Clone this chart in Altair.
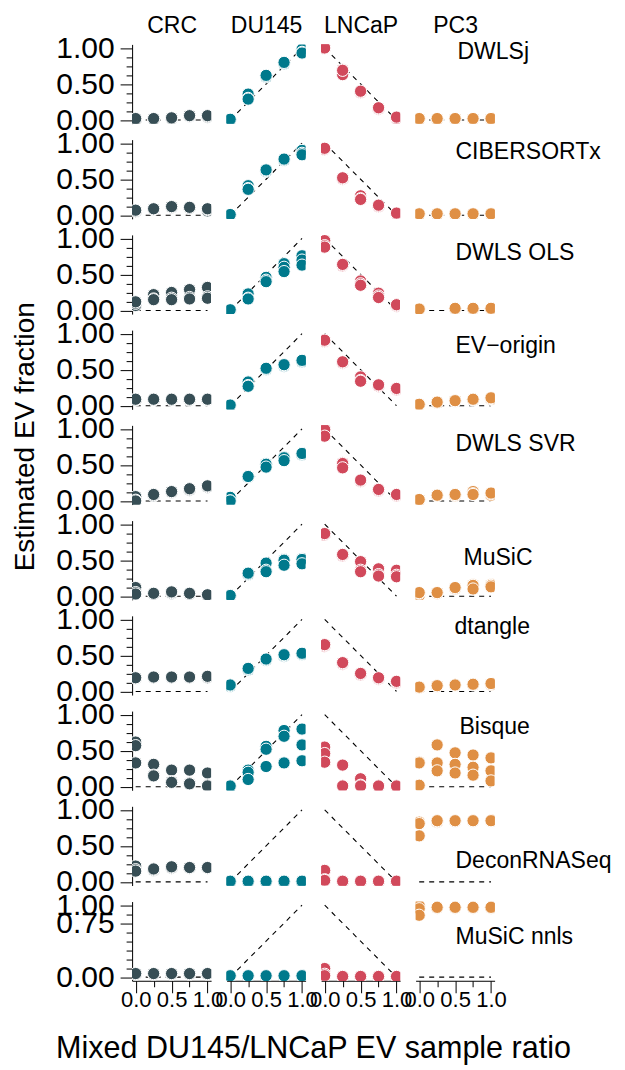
import json
import altair as alt
import pandas as pd

FONT = "Liberation Sans, Arial, Helvetica, sans-serif"

# ---------------- data ----------------
CELLS = ["CRC", "DU145", "LNCaP", "PC3"]
CELL_COLORS = ["#374E55", "#00798C", "#D1495B", "#DF8F44"]
RATIOS = [0.0, 0.25, 0.5, 0.75, 1.0]
METHODS = ["DWLSj", "CIBERSORTx", "DWLS OLS", "EV\u2212origin", "DWLS SVR",
           "MuSiC", "dtangle", "Bisque", "DeconRNASeq", "MuSiC nnls"]

# expected (true) EV fraction of each cell line at each mixing ratio
EXPECTED_CRC = [0.0, 0.0, 0.0, 0.0, 0.0]
EXPECTED_DU145 = [0.0, 0.25, 0.5, 0.75, 1.0]
EXPECTED_LNCAP = [1.0, 0.75, 0.5, 0.25, 0.0]
EXPECTED_PC3 = [0.0, 0.0, 0.0, 0.0, 0.0]

# estimated fractions: per cell line, one list of replicates per ratio
EST_DWLSJ = {
    "CRC":   [[0.01, 0.01, 0.02], [0.01, 0.01, 0.02], [0.02, 0.03, 0.03], [0.05, 0.06, 0.06], [0.04, 0.05, 0.06]],
    "DU145": [[0.00, 0.00, 0.01], [0.36, 0.30, 0.29], [0.60, 0.61, 0.62], [0.78, 0.79, 0.80], [0.98, 0.94, 0.93]],
    "LNCaP": [[0.99, 1.00, 1.00], [0.63, 0.70, 0.69], [0.38, 0.39, 0.40], [0.15, 0.16, 0.17], [0.02, 0.03, 0.04]],
    "PC3":   [[0.01, 0.01, 0.02], [0.01, 0.01, 0.02], [0.01, 0.02, 0.02], [0.01, 0.02, 0.02], [0.01, 0.02, 0.02]],
}
EST_CIBERSORTX = {
    "CRC":   [[0.05, 0.06, 0.07], [0.08, 0.09, 0.09], [0.11, 0.12, 0.12], [0.10, 0.10, 0.11], [0.06, 0.08, 0.09]],
    "DU145": [[0.00, 0.00, 0.01], [0.41, 0.37, 0.36], [0.61, 0.62, 0.63], [0.76, 0.77, 0.78], [0.90, 0.86, 0.84]],
    "LNCaP": [[0.91, 0.92, 0.93], [0.50, 0.51, 0.52], [0.27, 0.23, 0.22], [0.12, 0.13, 0.14], [0.02, 0.03, 0.03]],
    "PC3":   [[0.01, 0.02, 0.02], [0.01, 0.02, 0.02], [0.01, 0.02, 0.02], [0.01, 0.02, 0.02], [0.01, 0.02, 0.02]],
}
EST_DWLS_OLS = {
    "CRC":   [[0.07, 0.10, 0.12], [0.22, 0.16, 0.15], [0.25, 0.17, 0.15], [0.29, 0.18, 0.16], [0.32, 0.19, 0.17]],
    "DU145": [[0.00, 0.00, 0.01], [0.23, 0.17, 0.16], [0.46, 0.42, 0.40], [0.65, 0.60, 0.54], [0.76, 0.70, 0.63]],
    "LNCaP": [[0.97, 0.90, 0.88], [0.62, 0.63, 0.64], [0.41, 0.37, 0.35], [0.24, 0.20, 0.18], [0.06, 0.07, 0.08]],
    "PC3":   [[0.01, 0.02, 0.02], [], [0.02, 0.02, 0.03], [0.02, 0.02, 0.03], [0.02, 0.03, 0.03]],
}
EST_EV_ORIGIN = {
    "CRC":   [[0.08, 0.09, 0.09], [0.08, 0.09, 0.09], [0.08, 0.08, 0.09], [0.08, 0.08, 0.09], [0.08, 0.09, 0.09]],
    "DU145": [[0.00, 0.00, 0.01], [0.33, 0.28, 0.27], [0.50, 0.51, 0.52], [0.55, 0.56, 0.57], [0.61, 0.62, 0.63]],
    "LNCaP": [[0.89, 0.90, 0.91], [0.59, 0.60, 0.61], [0.40, 0.35, 0.34], [0.27, 0.28, 0.29], [0.22, 0.23, 0.24]],
    "PC3":   [[0.01, 0.02, 0.02], [0.04, 0.05, 0.05], [0.06, 0.07, 0.07], [0.08, 0.09, 0.09], [0.09, 0.10, 0.11]],
}
EST_DWLS_SVR = {
    "CRC":   [[0.06, 0.01, 0.00], [0.07, 0.08, 0.09], [0.12, 0.13, 0.13], [0.15, 0.16, 0.17], [0.19, 0.20, 0.21]],
    "DU145": [[0.05, 0.00, 0.00], [0.33, 0.34, 0.34], [0.52, 0.51, 0.47], [0.61, 0.60, 0.56], [0.64, 0.65, 0.66]],
    "LNCaP": [[1.00, 0.99, 0.90], [0.53, 0.52, 0.46], [0.27, 0.28, 0.29], [0.14, 0.15, 0.16], [0.07, 0.08, 0.09]],
    "PC3":   [[0.01, 0.02, 0.02], [0.07, 0.08, 0.08], [0.07, 0.08, 0.09], [0.13, 0.10, 0.09], [0.08, 0.10, 0.11]],
}
EST_MUSIC = {
    "CRC":   [[0.12, 0.05, 0.03], [0.03, 0.04, 0.04], [0.04, 0.05, 0.06], [0.03, 0.04, 0.04], [0.01, 0.01, 0.02]],
    "DU145": [[0.00, 0.00, 0.01], [0.30, 0.31, 0.32], [0.46, 0.36, 0.34], [0.51, 0.50, 0.43], [0.52, 0.51, 0.45]],
    "LNCaP": [[0.85, 0.86, 0.87], [0.56, 0.57, 0.58], [0.48, 0.36, 0.34], [0.38, 0.30, 0.28], [0.36, 0.29, 0.27]],
    "PC3":   [[0.01, 0.04, 0.05], [0.04, 0.05, 0.05], [0.10, 0.11, 0.12], [0.16, 0.15, 0.10], [0.16, 0.15, 0.13]],
}
EST_DTANGLE = {
    "CRC":   [[0.18, 0.19, 0.19], [0.19, 0.20, 0.20], [0.19, 0.20, 0.20], [0.19, 0.20, 0.20], [0.19, 0.20, 0.21]],
    "DU145": [[0.07, 0.08, 0.09], [0.30, 0.31, 0.32], [0.43, 0.44, 0.45], [0.49, 0.50, 0.51], [0.51, 0.52, 0.53]],
    "LNCaP": [[0.63, 0.64, 0.65], [0.38, 0.39, 0.40], [0.23, 0.24, 0.25], [0.17, 0.18, 0.19], [0.12, 0.13, 0.14]],
    "PC3":   [[0.05, 0.06, 0.06], [0.07, 0.08, 0.08], [0.08, 0.09, 0.09], [0.09, 0.10, 0.10], [0.09, 0.10, 0.11]],
}
EST_BISQUE = {
    "CRC":   [[0.62, 0.57, 0.33], [0.31, 0.16, 0.15], [0.23, 0.07, 0.06], [0.23, 0.05, 0.04], [0.19, 0.02, 0.01]],
    "DU145": [[0.00, 0.00, 0.01], [0.23, 0.20, 0.10], [0.56, 0.52, 0.28], [0.78, 0.70, 0.33], [0.80, 0.58, 0.36]],
    "LNCaP": [[0.55, 0.46, 0.34], [0.30, 0.01, 0.01], [0.11, 0.02, 0.01], [0.00, 0.01, 0.01], [0.00, 0.01, 0.01]],
    "PC3":   [[0.34, 0.33, 0.02], [0.58, 0.33, 0.22], [0.47, 0.31, 0.19], [0.44, 0.27, 0.16], [0.40, 0.22, 0.08]],
}
EST_DECONRNASEQ = {
    "CRC":   [[0.22, 0.17, 0.15], [0.16, 0.17, 0.18], [0.19, 0.20, 0.21], [0.19, 0.20, 0.20], [0.19, 0.20, 0.20]],
    "DU145": [[0.00, 0.00, 0.01], [0.00, 0.00, 0.01], [0.00, 0.00, 0.01], [0.00, 0.00, 0.01], [0.00, 0.00, 0.01]],
    "LNCaP": [[0.16, 0.03, 0.02], [0.00, 0.01, 0.01], [0.00, 0.01, 0.01], [0.00, 0.01, 0.01], [0.00, 0.01, 0.01]],
    "PC3":   [[0.83, 0.81, 0.64], [0.83, 0.84, 0.85], [0.84, 0.84, 0.85], [0.84, 0.85, 0.85], [0.84, 0.85, 0.85]],
}
EST_MUSIC_NNLS = {
    "CRC":   [[0.04, 0.05, 0.05], [0.04, 0.05, 0.05], [0.04, 0.05, 0.05], [0.04, 0.05, 0.05], [0.04, 0.05, 0.05]],
    "DU145": [[0.01, 0.01, 0.02], [0.01, 0.01, 0.02], [0.01, 0.01, 0.02], [0.01, 0.01, 0.02], [0.01, 0.01, 0.02]],
    "LNCaP": [[0.12, 0.04, 0.02], [0.00, 0.01, 0.01], [0.00, 0.01, 0.01], [0.00, 0.01, 0.01], [0.00, 0.01, 0.01]],
    "PC3":   [[0.99, 0.95, 0.86], [0.96, 0.97, 0.97], [0.96, 0.97, 0.97], [0.96, 0.97, 0.97], [0.96, 0.97, 0.97]],
}

Y_TICKS = [0.0, 0.125, 0.25, 0.375, 0.5, 0.625, 0.75, 0.875, 1.0]
Y_LABELS = [0.0, 0.5, 1.0]
Y_LABELS_LAST = [0.0, 0.75, 1.0]
X_LABELS = [0.0, 0.5, 1.0]
Y_TITLE = "Estimated EV fraction"
X_TITLE = "Mixed DU145/LNCaP EV sample ratio"

ESTIMATES = dict(zip(METHODS, [EST_DWLSJ, EST_CIBERSORTX, EST_DWLS_OLS, EST_EV_ORIGIN, EST_DWLS_SVR,
                               EST_MUSIC, EST_DTANGLE, EST_BISQUE, EST_DECONRNASEQ, EST_MUSIC_NNLS]))
EXPECTED = dict(zip(CELLS, [EXPECTED_CRC, EXPECTED_DU145, EXPECTED_LNCAP, EXPECTED_PC3]))

obs_rows = []
for m in METHODS:
    for cell in CELLS:
        for ratio, reps in zip(RATIOS, ESTIMATES[m][cell]):
            for v in reps:
                obs_rows.append({"method": m, "cell": cell, "ratio": ratio, "fraction": v})
obs_df = pd.DataFrame(obs_rows)
exp_df = pd.DataFrame([{"cell": c, "ratio": r, "fraction": v}
                       for c in CELLS for r, v in zip(RATIOS, EXPECTED[c])])

# ---------------- layout / style ----------------
W, H = 79, 79.2
COL_GAP, ROW_GAP = 15.5, 15.24
ORIGIN_X, ORIGIN_Y = 132.1, 44.4          # page position of top-left panel
PAGE_W, PAGE_H = 625, 1070
SVG_H = 1058
COL3_RIGHT = ORIGIN_X + 3 * (W + COL_GAP) + W

# method label placement (page x of label start, baseline offset from panel top)
LABEL_X = {"DWLSj": 457, "CIBERSORTx": 455, "DWLS OLS": 455, "EV\u2212origin": 455, "DWLS SVR": 455,
           "MuSiC": 463, "dtangle": 454, "Bisque": 459, "DeconRNASeq": 455, "MuSiC nnls": 455}
LABEL_DY = {"DWLSj": 13.9, "CIBERSORTx": 18.5, "DWLS OLS": 25, "EV\u2212origin": 22.3, "DWLS SVR": 25.5,
            "MuSiC": 43.4, "dtangle": 17.3, "Bisque": 22.8, "DeconRNASeq": 60.8, "MuSiC nnls": 42.3}

MAJOR, MINOR = 12, 6


def in_list(lst):
    return f"indexof({json.dumps(lst)}, datum.value) >= 0"


def tick_size(lst):
    return {"condition": {"test": in_list(lst), "value": MAJOR}, "value": MINOR}


common_axis = dict(grid=False, domainColor="black", tickColor="black", labelColor="black",
                   domainWidth=1, tickWidth=1, labelFont=FONT, titleFont=FONT,
                   titleFontWeight="normal", titleColor="black", labelFlush=False, labelOverlap=False)

xscale = alt.Scale(domain=[-0.05, 1.05], nice=False, zero=False)
yscale = alt.Scale(domain=[-0.05, 1.05], nice=False, zero=False)
color = alt.Color("cell:N", scale=alt.Scale(domain=CELLS, range=CELL_COLORS), legend=None)

n_rows = len(METHODS)
panels = []
for r, method in enumerate(METHODS):
    last = r == n_rows - 1
    for c, cell in enumerate(CELLS):
        # x axis
        if r == 0:
            x_axis = alt.Axis(orient="top", domain=False, ticks=False, labels=False, grid=False,
                              title=cell, titleFont=FONT, titleFontSize=23, titleFontWeight="normal",
                              titleColor="black", titleAlign="center", titleBaseline="alphabetic",
                              titleX=W / 2, titleY=-12.1)
        elif last:
            kw = dict(common_axis, orient="bottom", values=RATIOS,
                      labelExpr=f"{in_list(X_LABELS)} ? format(datum.value, '.1f') : ''",
                      tickSize=tick_size(X_LABELS), labelFontSize=22, labelPadding=-3)
            if c == 1:
                kw.update(title=X_TITLE, titleFontSize=30.5, titleAlign="center",
                          titleBaseline="alphabetic",
                          titleX=313 - (ORIGIN_X + (W + COL_GAP)),
                          titleY=1050 - (ORIGIN_Y + 9 * (H + ROW_GAP) + H))
            else:
                kw["title"] = None
            x_axis = alt.Axis(**kw)
        else:
            x_axis = None

        # y axis
        if c == 0:
            labs = Y_LABELS_LAST if last else Y_LABELS
            kw = dict(common_axis, orient="left", values=Y_TICKS,
                      labelExpr=f"{in_list(labs)} ? format(datum.value, '.2f') : ''",
                      tickSize=tick_size(labs), labelFontSize=30, labelPadding=6)
            if r == 4:
                row_top = ORIGIN_Y + 4 * (H + ROW_GAP)
                kw.update(title=Y_TITLE, titleFontSize=28, titleAngle=270, titleAlign="center",
                          titleBaseline="alphabetic", titleX=33 - ORIGIN_X, titleY=433 - row_top)
            else:
                kw["title"] = None
            y_axis = alt.Axis(**kw)
        elif c == 3:
            y_axis = alt.Axis(orient="right", domain=False, ticks=False, labels=False, grid=False,
                              title=method, titleFont=FONT, titleFontSize=23, titleFontWeight="normal",
                              titleColor="black", titleAngle=0, titleAlign="left",
                              titleBaseline="alphabetic", titleX=LABEL_X[method] - COL3_RIGHT,
                              titleY=LABEL_DY[method])
        else:
            y_axis = None

        x = alt.X("ratio:Q", scale=xscale, axis=x_axis)
        y = alt.Y("fraction:Q", scale=yscale, axis=y_axis)

        line = alt.Chart(exp_df).transform_filter(alt.datum.cell == cell).mark_line(
            color="black", strokeDash=[5, 5], strokeWidth=1.1, clip=True
        ).encode(x=x, y=y)
        pts = alt.Chart(obs_df).transform_filter(
            (alt.datum.method == method) & (alt.datum.cell == cell)
        ).mark_circle(size=150, opacity=1, stroke="white", strokeWidth=1, clip=True).encode(
            x=x, y=y, color=color
        )
        panels.append(alt.layer(line, pts).properties(width=W, height=H))

pad_left = ORIGIN_X - 8
pad_top = ORIGIN_Y - 8
chart = alt.concat(
    *panels, columns=4, spacing={"row": ROW_GAP, "column": COL_GAP}, bounds="flush"
).properties(
    autosize=alt.AutoSizeParams(type="none"),
    padding={"left": pad_left, "top": pad_top,
             "right": PAGE_W - 16 - pad_left, "bottom": SVG_H - pad_top},
    background="white",
).configure_view(stroke=None)

chart.save("out.html", embed_options={"renderer": "svg", "actions": False})
